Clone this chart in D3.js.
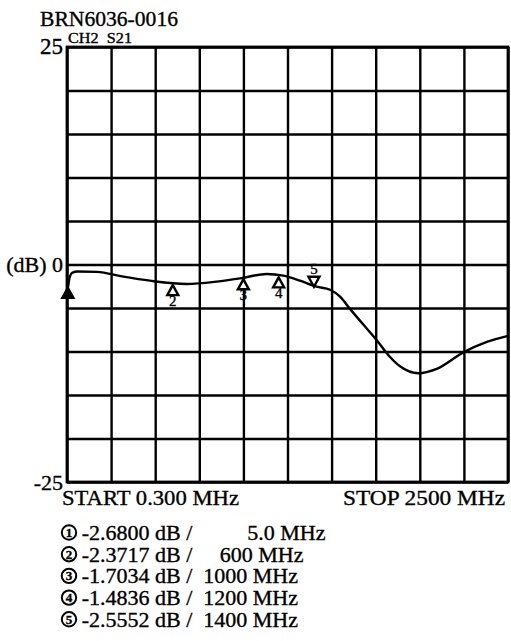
<!DOCTYPE html>
<html>
<head>
<meta charset="utf-8">
<script src="https://cdn.jsdelivr.net/npm/d3@7/dist/d3.min.js"></script>
<style>
  html, body { margin: 0; padding: 0; background: #fff; }
  svg { display: block; }
  text { font-family: "Liberation Serif", "Times New Roman", serif; fill: #000; stroke: #000; stroke-width: 0.35px; }
</style>
</head>
<body>
<svg id="chart" width="511" height="641"></svg>
<script>
// ---- data ----
const title = "BRN6036-0016";
const channelLabel = "CH2  S21";
const yTickLabels = [[25, "25"], [0, "(dB) 0"], [-25, "-25"]];
const startLabel = "START 0.300 MHz";
const stopLabel = "STOP 2500 MHz";
const freqStart = 0.3, freqStop = 2500;   // MHz
const dbTop = 25, dbBottom = -25;          // dB
const dbPerDiv = 5;
const xDivisions = 10;

// trace: frequency (MHz), level (dB)
const traceFreq = [0.3, 5, 15, 30, 60, 170, 320, 470, 679, 849, 981, 1132, 1226, 1321, 1415, 1491, 1548, 1604, 1680, 1756, 1830, 1888, 1992, 2096, 2247, 2380, 2500];
const traceDb   = [-2.9, -2.68, -1.5, -0.95, -0.8, -0.85, -1.4, -1.86, -2.24, -1.97, -1.6, -1.09, -1.28, -1.86, -2.55, -2.9, -3.7, -5.1, -6.9, -8.7, -10.6, -11.7, -12.5, -12.0, -10.1, -8.9, -8.2];

// markers
const markerNum  = [1, 2, 3, 4, 5];
const markerFreq = [5.0, 600, 1000, 1200, 1400];
const markerDb   = [-2.6800, -2.3717, -1.7034, -1.4836, -2.5552];
const markerDir  = ["upFilled", "up", "up", "up", "down"];
const markerFreqText = ["5.0", "600", "1000", "1200", "1400"];

// ---- layout ----
const svg = d3.select("#chart");
const pl = 67, pr = 508, pt = 47, pb = 482;

const x = d3.scaleLinear().domain([freqStart, freqStop]).range([pl, pr]);
const y = d3.scaleLinear().domain([dbBottom, dbTop]).range([pb, pt]);

const gridStroke = 2.4;

const yGridVals = d3.range(dbBottom, dbTop + 0.001, dbPerDiv);
const xGridVals = d3.range(0, xDivisions + 1).map(i => freqStart + i * (freqStop - freqStart) / xDivisions);

const gy = svg.append("g")
  .attr("transform", `translate(${pl},0)`)
  .call(d3.axisLeft(y).tickValues(yGridVals).tickSize(-(pr - pl)).tickFormat(""));
gy.select(".domain").remove();
gy.selectAll(".tick line").attr("stroke", "#000").attr("stroke-width", gridStroke);

const gx = svg.append("g")
  .attr("transform", `translate(0,${pb})`)
  .call(d3.axisBottom(x).tickValues(xGridVals).tickSize(-(pb - pt)).tickFormat(""));
gx.select(".domain").remove();
gx.selectAll(".tick line").attr("stroke", "#000").attr("stroke-width", gridStroke);

// border
svg.append("rect")
  .attr("x", pl).attr("y", pt)
  .attr("width", pr - pl).attr("height", pb - pt)
  .attr("fill", "none").attr("stroke", "#000").attr("stroke-width", gridStroke + 0.4);

// y labels
const gyl = svg.append("g")
  .attr("transform", `translate(${pl},0)`)
  .call(d3.axisLeft(y).tickValues(yTickLabels.map(d => d[0])).tickSize(0).tickPadding(4)
    .tickFormat(v => yTickLabels.find(d => d[0] === v)[1]));
gyl.select(".domain").remove();
gyl.selectAll(".tick text")
  .style("font-family", '"Liberation Serif", serif')
  .style("font-size", "22px")
  .attr("fill", "#000")
  .attr("dy", "0.34em");
gyl.selectAll(".tick").filter(v => v === dbTop).select("text").attr("dy", "0.3em").style("font-size", "23px");

// title and channel label
svg.append("text").attr("x", 40).attr("y", 26).style("font-size", "22px")
  .attr("textLength", 138).attr("lengthAdjust", "spacingAndGlyphs").text(title);
svg.append("text").attr("x", 68).attr("y", 42.5).style("font-size", "15px")
  .attr("xml:space", "preserve").style("white-space", "pre")
  .attr("textLength", 64).attr("lengthAdjust", "spacingAndGlyphs").text(channelLabel);

// trace
const line = d3.line()
  .x(i => x(traceFreq[i]))
  .y(i => y(traceDb[i]))
  .curve(d3.curveMonotoneX);
svg.append("path")
  .attr("d", line(d3.range(traceFreq.length)))
  .attr("fill", "none")
  .attr("stroke", "#000")
  .attr("stroke-width", 2.4)
  .attr("stroke-linejoin", "round");

// markers
const tw = 5.5, th = 10;
markerNum.forEach((n, i) => {
  const px = x(markerFreq[i]), py = y(markerDb[i]);
  const g = svg.append("g");
  if (markerDir[i] === "down") {
    g.append("path")
      .attr("d", `M${px},${py} L${px - tw},${py - th} L${px + tw},${py - th} Z`)
      .attr("fill", "#fff").attr("stroke", "#000").attr("stroke-width", 2.4);
    g.append("text").attr("x", px).attr("y", py - th - 3).attr("text-anchor", "middle")
      .style("font-size", "15px").text(n);
  } else {
    const filled = markerDir[i] === "upFilled";
    g.append("path")
      .attr("d", `M${px},${py} L${px - tw},${py + th} L${px + tw},${py + th} Z`)
      .attr("fill", filled ? "#000" : "#fff").attr("stroke", "#000").attr("stroke-width", 2.4);
    if (!filled) {
      g.append("text").attr("x", px).attr("y", py + th + 11).attr("text-anchor", "middle")
        .style("font-size", "15px").text(n);
    }
  }
});

// start / stop
svg.append("text").attr("x", 62).attr("y", 505).style("font-size", "22px")
  .attr("textLength", 177).attr("lengthAdjust", "spacingAndGlyphs").text(startLabel);
svg.append("text").attr("x", 343).attr("y", 505).style("font-size", "22px")
  .attr("textLength", 162).attr("lengthAdjust", "spacingAndGlyphs").text(stopLabel);

// marker legend
const legendBase = 540, legendStep = 21.7;
const spacesBeforeFreq = (s) => s.length === 3 && s.indexOf(".") >= 0 ? 10 : (s.length === 3 ? 5 : 2);
markerNum.forEach((n, i) => {
  const by = legendBase + i * legendStep;
  const g = svg.append("g");
  g.append("circle").attr("cx", 69).attr("cy", by - 7.5).attr("r", 7.2)
    .attr("fill", "none").attr("stroke", "#000").attr("stroke-width", 2);
  g.append("text").attr("x", 69).attr("y", by - 3).attr("text-anchor", "middle")
    .style("font-size", "13px").style("font-weight", "bold").text(n);
  const fs = markerFreqText[i];
  g.append("text").attr("x", 81.7).attr("y", by).style("font-size", "22px")
    .attr("xml:space", "preserve").style("white-space", "pre")
    .text(`${markerDb[i].toFixed(4)} dB /${" ".repeat(spacesBeforeFreq(fs))}${fs} MHz`);
});
</script>
</body>
</html>
